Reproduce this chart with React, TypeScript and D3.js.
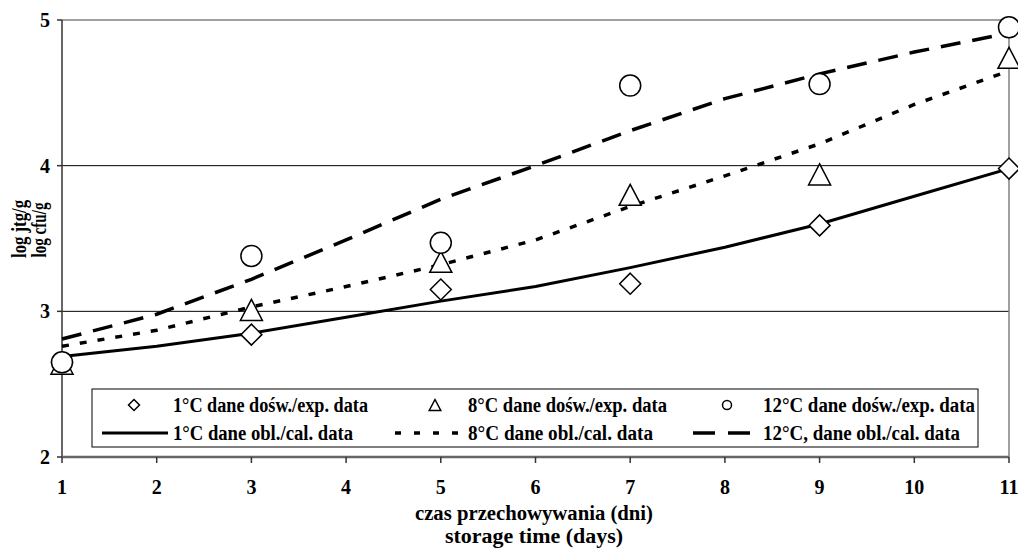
import React from "react";
import * as d3 from "d3";

// measured days (experimental) and model days (calculated)
const expDays = [1, 3, 5, 7, 9, 11];
const calcDays = [1, 2, 3, 4, 5, 6, 7, 8, 9, 10, 11];

// experimental data, log cfu/g
const exp1 = [2.65, 2.84, 3.15, 3.19, 3.59, 3.98];
const exp8 = [2.64, 3.01, 3.34, 3.8, 3.94, 4.74];
const exp12 = [2.65, 3.38, 3.47, 4.55, 4.56, 4.95];

// calculated data
const calc1 = [2.69, 2.76, 2.85, 2.96, 3.07, 3.17, 3.3, 3.44, 3.6, 3.79, 3.98];
const calc8 = [2.76, 2.87, 3.03, 3.17, 3.32, 3.49, 3.72, 3.93, 4.15, 4.42, 4.65];
const calc12 = [2.81, 2.98, 3.22, 3.49, 3.77, 4.0, 4.24, 4.46, 4.63, 4.78, 4.91];

const xTicks = [1, 2, 3, 4, 5, 6, 7, 8, 9, 10, 11];
const yTicks = [2, 3, 4, 5];

const legendExp = ["1°C dane dośw./exp. data", "8°C dane dośw./exp. data", "12°C dane dośw./exp. data"];
const legendCalc = ["1°C dane obl./cal. data", "8°C dane obl./cal. data", "12°C, dane obl./cal. data"];

const FONT = "'Liberation Serif', 'Times New Roman', serif";

const margin = { left: 62, top: 20, right: 1009, bottom: 457 };

function Marker({ type, x, y, s }: { type: string; x: number; y: number; s: number }) {
    // s = half size
    if (type === "diamond") {
        return (
            <path
                d={`M${x},${y - s}L${x + s},${y}L${x},${y + s}L${x - s},${y}Z`}
                fill="#fff" stroke="#000" strokeWidth={1.5}
            />
        );
    }
    if (type === "triangle") {
        return (
            <path
                d={`M${x},${y - s}L${x + s * 1.05},${y + s}L${x - s * 1.05},${y + s}Z`}
                fill="#fff" stroke="#000" strokeWidth={1.5}
            />
        );
    }
    return <circle cx={x} cy={y} r={s} fill="#fff" stroke="#000" strokeWidth={1.5} />;
}

export default function App() {
    const x = d3.scaleLinear().domain([1, 11]).range([margin.left, margin.right]);
    const y = d3.scaleLinear().domain([2, 5]).range([margin.bottom, margin.top]);

    const line = d3
        .line<number>()
        .x((d, i) => x(calcDays[i]))
        .y((d) => y(d));

    const calcSeries = [
        { vals: calc1, dash: "none", w: 3 },
        { vals: calc8, dash: "7,11", w: 3.5 },
        { vals: calc12, dash: "20,12", w: 3.5 },
    ];
    const expSeries = [
        { vals: exp1, type: "diamond" },
        { vals: exp8, type: "triangle" },
        { vals: exp12, type: "circle" },
    ];

    // legend layout
    const legCols = [
        { mx: 134, tx: 173, w1: 195, w2: 180, lx0: 102, lx1: 168 },
        { mx: 435, tx: 468, w1: 199, w2: 185, lx0: 395, lx1: 460 },
        { mx: 727, tx: 763, w1: 212, w2: 197, lx0: 693, lx1: 750 },
    ];
    const legMarkSize = [5.5, 5.5, 4.5];

    return (
        <svg width={1018} height={550} style={{ position: "absolute", left: 0, top: 0, background: "#fff" }}>
            <rect width={1018} height={550} fill="#fff" />

            {/* gridlines */}
            {yTicks.filter((t) => t > 2 && t < 5).map((t) => (
                <line key={"g" + t} x1={margin.left} x2={margin.right} y1={y(t)} y2={y(t)} stroke="#000" strokeWidth={1} />
            ))}
            {/* plot frame top / right */}
            <line x1={margin.left} x2={margin.right} y1={y(5)} y2={y(5)} stroke="#808080" strokeWidth={1.5} />
            <line x1={margin.right} x2={margin.right} y1={y(5)} y2={y(2)} stroke="#808080" strokeWidth={1.5} />

            {/* y axis */}
            <line x1={margin.left} x2={margin.left} y1={y(5)} y2={y(2)} stroke="#333" strokeWidth={1.5} />
            {yTicks.map((t) => (
                <g key={"y" + t}>
                    <line x1={margin.left - 5} x2={margin.left} y1={y(t)} y2={y(t)} stroke="#333" strokeWidth={1.5} />
                    <text x={50} y={y(t) + 7} textAnchor="end" fontFamily={FONT} fontWeight="bold" fontSize={20}>
                        {t}
                    </text>
                </g>
            ))}

            {/* x axis */}
            <line x1={margin.left} x2={margin.right} y1={y(2)} y2={y(2)} stroke="#666" strokeWidth={2.5} />
            {xTicks.map((t) => (
                <g key={"x" + t}>
                    <line x1={x(t)} x2={x(t)} y1={y(2)} y2={y(2) + 6} stroke="#333" strokeWidth={1.5} />
                    <text x={x(t)} y={494} textAnchor="middle" fontFamily={FONT} fontWeight="bold" fontSize={20}>
                        {t}
                    </text>
                </g>
            ))}

            {/* axis titles */}
            <text x={534} y={520} textAnchor="middle" fontFamily={FONT} fontWeight="bold" fontSize={20}
                textLength={238} lengthAdjust="spacingAndGlyphs">
                czas przechowywania (dni)
            </text>
            <text x={534} y={543} textAnchor="middle" fontFamily={FONT} fontWeight="bold" fontSize={20}
                textLength={178} lengthAdjust="spacingAndGlyphs">
                storage time (days)
            </text>
            <text transform="translate(26,229) rotate(-90)" textAnchor="middle" fontFamily={FONT} fontWeight="bold"
                fontSize={20} textLength={58} lengthAdjust="spacingAndGlyphs">
                log jtg/g
            </text>
            <text transform="translate(46,230) rotate(-90)" textAnchor="middle" fontFamily={FONT} fontWeight="bold"
                fontSize={20} textLength={55} lengthAdjust="spacingAndGlyphs">
                log cfu/g
            </text>

            {/* calculated lines */}
            {calcSeries.map((s, i) => (
                <path key={"c" + i} d={line(s.vals) || ""} fill="none" stroke="#000" strokeWidth={s.w}
                    strokeDasharray={s.dash} />
            ))}

            {/* experimental markers */}
            {expSeries.map((s, i) =>
                s.vals.map((v, j) => (
                    <Marker key={"m" + i + "-" + j} type={s.type} x={x(expDays[j])} y={y(v)} s={10.5} />
                ))
            )}

            {/* legend */}
            <rect x={92} y={389} width={886} height={58} fill="#fff" stroke="#000" strokeWidth={1} />
            {legCols.map((c, i) => (
                <g key={"l" + i}>
                    <Marker type={expSeries[i].type} x={c.mx} y={405} s={legMarkSize[i]} />
                    <text x={c.tx} y={412} fontFamily={FONT} fontWeight="bold" fontSize={20}
                        textLength={c.w1} lengthAdjust="spacingAndGlyphs">
                        {legendExp[i]}
                    </text>
                    <line x1={c.lx0} x2={c.lx1} y1={433} y2={433} stroke="#000" strokeWidth={calcSeries[i].w}
                        strokeDasharray={i === 1 ? "6,13" : i === 2 ? "22,13" : "none"} />
                    <text x={c.tx} y={440} fontFamily={FONT} fontWeight="bold" fontSize={20}
                        textLength={c.w2} lengthAdjust="spacingAndGlyphs">
                        {legendCalc[i]}
                    </text>
                </g>
            ))}
        </svg>
    );
}
